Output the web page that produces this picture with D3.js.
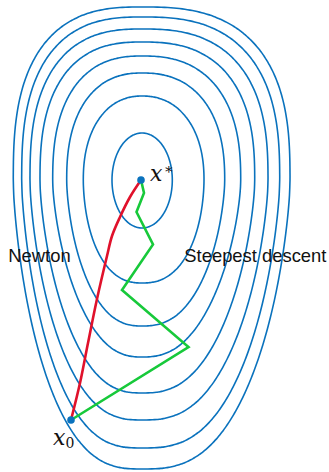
<!DOCTYPE html>
<html>
<head>
<meta charset="utf-8">
<script src="https://cdn.jsdelivr.net/npm/d3@7"></script>
<style>
  html, body { margin: 0; padding: 0; background: #fff; }
  svg { display: block; }
</style>
</head>
<body>
<svg id="chart" width="329" height="472"></svg>
<script>
// Level curves of the objective, innermost first (extents along the axes through x*)
const levelLeft   = [-0.30, -0.587, -0.753, -0.893, -1.02, -1.12, -1.203, -1.287];
const levelRight  = [0.303, 0.62, 0.827, 0.987, 1.127, 1.26, 1.377, 1.48];
const levelTop    = [0.47, 0.84, 1.07, 1.24, 1.38, 1.51, 1.63, 1.73];
const levelBottom = [-0.48, -1.03, -1.46, -1.77, -2.13, -2.40, -2.68, -2.89];
// squareness of the upper and lower halves, and narrowing of the lower half
const levelTopShape    = [2.0, 2.2, 2.35, 2.45, 2.55, 2.6, 2.65, 2.7];
const levelBottomShape = [2.0, 2.4, 2.5, 2.5, 2.6, 2.7, 2.8, 2.8];
const levelTaper       = [0.0, 0.10, 0.20, 0.25, 0.25, 0.25, 0.25, 0.25];

// start point and minimiser
const xStart = [-0.71, -2.40];
const xOpt   = [-0.01, 0.0];

// Newton iterates (smooth path) and steepest-descent iterates
const newtonX = [-0.71, -0.62, -0.54, -0.45, -0.35, -0.30, -0.22, -0.12, -0.01];
const newtonY = [-2.40, -2.03, -1.63, -1.19, -0.76, -0.56, -0.37, -0.17, 0.0];
const descentX = [-0.71, 0.465, -0.20, 0.11, -0.055, 0.02, -0.01];
const descentY = [-2.40, -1.67, -1.10, -0.645, -0.32, -0.13, 0.0];

const W = 329, H = 472;
const svg = d3.select("#chart");

const x = d3.scaleLinear().domain([-1.42, 1.87]).range([0, W]);
const y = d3.scaleLinear().domain([1.80, -2.92]).range([0, H]);

const blue = "#0a72bd", red = "#e0112b", green = "#17c93a";

// superellipse halves joined at the widest line; the lower half narrows smoothly with depth
function levelCurve(i) {
  const pts = [];
  const N = 400;
  for (let k = 0; k < N; k++) {
    const t = 2 * Math.PI * k / N;
    const c = Math.cos(t), s = Math.sin(t);
    const upper = s >= 0;
    const e = 2 / (upper ? levelTopShape[i] : levelBottomShape[i]);
    const depth = Math.pow(Math.abs(s), e);
    const taper = upper ? 1 : 1 - levelTaper[i] * depth * depth / (depth + 0.15);
    const r = c >= 0 ? levelRight[i] : -levelLeft[i];
    const px = r * Math.sign(c) * Math.pow(Math.abs(c), e) * taper;
    const py = upper ? levelTop[i] * depth : levelBottom[i] * depth;
    pts.push([px, py]);
  }
  return pts;
}

const closed = d3.line().x(d => x(d[0])).y(d => y(d[1])).curve(d3.curveCardinalClosed);

svg.append("g")
  .selectAll("path")
  .data(d3.range(levelLeft.length))
  .join("path")
  .attr("d", i => closed(levelCurve(i)))
  .attr("fill", "none")
  .attr("stroke", blue)
  .attr("stroke-width", 1.6);

const newtonPts = newtonX.map((v, i) => [v, newtonY[i]]);
const descentPts = descentX.map((v, i) => [v, descentY[i]]);

svg.append("path")
  .attr("d", d3.line().x(d => x(d[0])).y(d => y(d[1])).curve(d3.curveCatmullRom)(newtonPts))
  .attr("fill", "none")
  .attr("stroke", red)
  .attr("stroke-width", 2.6)
  .attr("stroke-linecap", "round");

svg.append("path")
  .attr("d", d3.line().x(d => x(d[0])).y(d => y(d[1]))(descentPts))
  .attr("fill", "none")
  .attr("stroke", green)
  .attr("stroke-width", 2.6)
  .attr("stroke-linejoin", "miter");

svg.selectAll("circle.pt")
  .data([xStart, xOpt])
  .join("circle")
  .attr("class", "pt")
  .attr("cx", d => x(d[0]))
  .attr("cy", d => y(d[1]))
  .attr("r", 3.8)
  .attr("fill", blue);

// labels
const serif = "'DejaVu Serif', 'Liberation Serif', serif";
const optLabel = svg.append("text")
  .attr("x", x(xOpt[0]) + 9)
  .attr("y", y(xOpt[1]) + 0.5)
  .attr("font-family", serif)
  .attr("font-size", 22)
  .attr("font-style", "italic")
  .attr("fill", "#111");
optLabel.append("tspan").text("x");
optLabel.append("tspan").attr("dy", -7).attr("dx", 1).attr("font-size", 15).attr("font-style", "normal").text("∗");

const startLabel = svg.append("text")
  .attr("x", x(xStart[0]) - 18)
  .attr("y", y(xStart[1]) + 25)
  .attr("font-family", serif)
  .attr("font-size", 22)
  .attr("font-style", "italic")
  .attr("fill", "#111");
startLabel.append("tspan").text("x");
startLabel.append("tspan").attr("dy", 3).attr("font-size", 14).attr("font-style", "normal").text("0");

const sans = "'Liberation Sans', Arial, Helvetica, sans-serif";
svg.append("text")
  .attr("x", 8.3).attr("y", 262)
  .attr("font-family", sans).attr("font-size", 18.4).attr("fill", "#111")
  .text("Newton");
svg.append("text")
  .attr("x", 184.3).attr("y", 262)
  .attr("font-family", sans).attr("font-size", 18.4).attr("fill", "#111")
  .text("Steepest descent");
</script>
</body>
</html>
